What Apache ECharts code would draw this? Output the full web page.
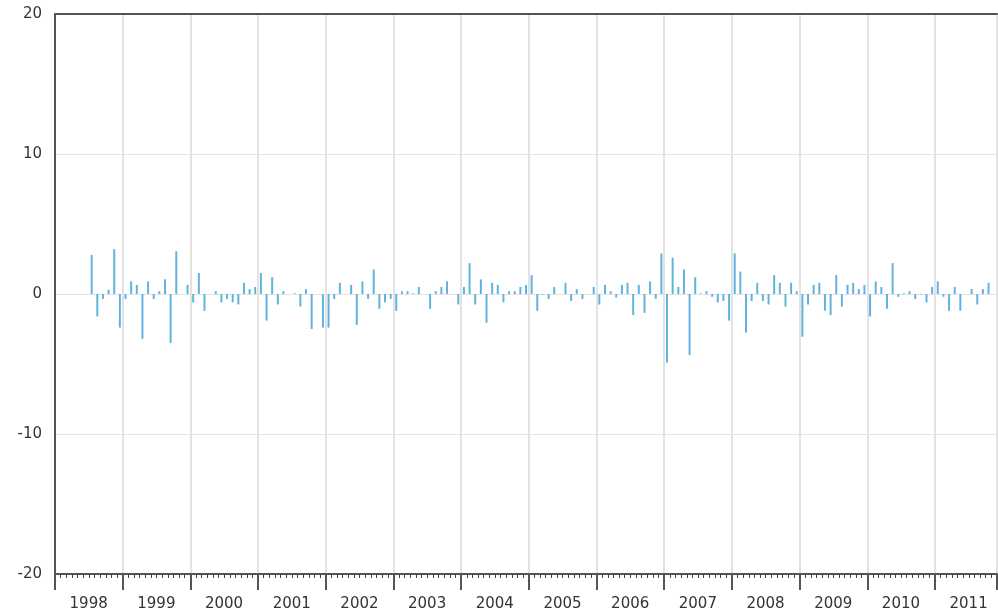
<!DOCTYPE html>
<html>
<head>
<meta charset="UTF-8">
<script src="https://cdn.jsdelivr.net/npm/echarts@6/dist/echarts.min.js"></script>
<style>
  html, body { margin: 0; padding: 0; background: #fff; }
  #chart { width: 998px; height: 612px; }
</style>
</head>
<body>
<div id="chart"></div>
<script>
// year labels, one per calendar year on the axis (2011 is partial)
const years = ['1998', '1999', '2000', '2001', '2002', '2003', '2004',
  '2005', '2006', '2007', '2008', '2009', '2010', '2011'];
const monthsIn2011 = 11;

// monthly changes, Jan 1998 .. Nov 2011 (null = no bar)
const values = [
  null, null, null, null, null, null, 2.8, -1.6, -0.35, 0.3, 3.2, -2.4,
  -0.35, 0.9, 0.65, -3.2, 0.9, -0.35, 0.2, 1.05, -3.5, 3.05, null, 0.65,
  -0.6, 1.5, -1.2, null, 0.2, -0.6, -0.35, -0.6, -0.75, 0.8, 0.35, 0.5,
  1.5, -1.9, 1.2, -0.75, 0.2, null, 0.05, -0.9, 0.35, -2.5, null, -2.4,
  -2.4, -0.35, 0.8, null, 0.65, -2.2, 0.9, -0.35, 1.75, -1.05, -0.6, -0.35,
  -1.2, 0.2, 0.2, 0.05, 0.5, null, -1.05, 0.2, 0.5, 0.9, null, -0.75,
  0.5, 2.2, -0.75, 1.05, -2.05, 0.8, 0.65, -0.6, 0.2, 0.2, 0.5, 0.65,
  1.35, -1.2, -0.05, -0.35, 0.5, null, 0.8, -0.5, 0.35, -0.35, null, 0.5,
  -0.75, 0.65, 0.2, -0.25, 0.65, 0.8, -1.5, 0.65, -1.35, 0.9, -0.35, 2.9,
  -4.9, 2.6, 0.5, 1.75, -4.35, 1.2, 0.05, 0.2, -0.2, -0.6, -0.5, -1.9,
  2.9, 1.6, -2.75, -0.5, 0.8, -0.5, -0.75, 1.35, 0.8, -0.9, 0.8, 0.2,
  -3.05, -0.75, 0.65, 0.8, -1.2, -1.5, 1.35, -0.9, 0.65, 0.8, 0.35, 0.65,
  -1.6, 0.9, 0.5, -1.05, 2.2, -0.2, 0.05, 0.2, -0.35, -0.05, -0.6, 0.5,
  0.9, -0.2, -1.2, 0.5, -1.2, null, 0.35, -0.75, 0.35, 0.8, null
];

const yTicks = [-20, -10, 0, 10, 20];

// month categories built from the year list
const months = [];
years.forEach(function (y, i) {
  const n = i === years.length - 1 ? monthsIn2011 : 12;
  for (let m = 1; m <= n; m++) months.push(y + '-' + (m < 10 ? '0' + m : m));
});

const dark = '#555';
const font = 'DejaVu Sans, Verdana, sans-serif';

const chart = echarts.init(document.getElementById('chart'));
chart.setOption({
  animation: false,
  grid: { left: 55, right: 1, top: 14, bottom: 37 },
  xAxis: [
    {
      type: 'category',
      data: months,
      position: 'bottom',
      axisLine: { show: true, onZero: false, lineStyle: { color: dark, width: 2 } },
      axisTick: { show: true, interval: 0, length: 4, lineStyle: { color: '#444' } },
      axisLabel: { show: false },
      splitLine: {
        show: true,
        interval: function (i) { return i % 12 === 0; },
        lineStyle: { color: '#e3e3e3', width: 2 }
      }
    },
    {
      type: 'category',
      data: months,
      position: 'bottom',
      axisLine: { show: false, onZero: false },
      axisTick: {
        show: true,
        interval: function (i) { return i % 12 === 0; },
        length: 16,
        lineStyle: { color: dark, width: 2 }
      },
      axisLabel: {
        interval: function (i) { return i % 12 === 6; },
        formatter: function (v) { return v.slice(0, 4); },
        margin: 23,
        padding: [0, 6, 0, 0],
        color: '#333',
        fontSize: 15,
        fontFamily: font
      },
      splitLine: { show: false }
    },
    {
      type: 'category',
      data: months,
      position: 'top',
      axisLine: { show: true, onZero: false, lineStyle: { color: dark, width: 2 } },
      axisTick: { show: false },
      axisLabel: { show: false },
      splitLine: { show: false }
    }
  ],
  yAxis: {
    type: 'value',
    min: yTicks[0],
    max: yTicks[yTicks.length - 1],
    interval: 10,
    axisLine: { show: true, onZero: false, lineStyle: { color: dark, width: 2 } },
    axisTick: { show: false },
    axisLabel: { color: '#333', fontSize: 15, fontFamily: font, margin: 13 },
    splitLine: { lineStyle: { color: '#e3e3e3', width: 1 } }
  },
  series: [{
    type: 'bar',
    xAxisIndex: 0,
    data: values.map(function (v) { return v === null ? '-' : v; }),
    barWidth: 2,
    itemStyle: { color: '#62b3dc' }
  }]
});
</script>
</body>
</html>
